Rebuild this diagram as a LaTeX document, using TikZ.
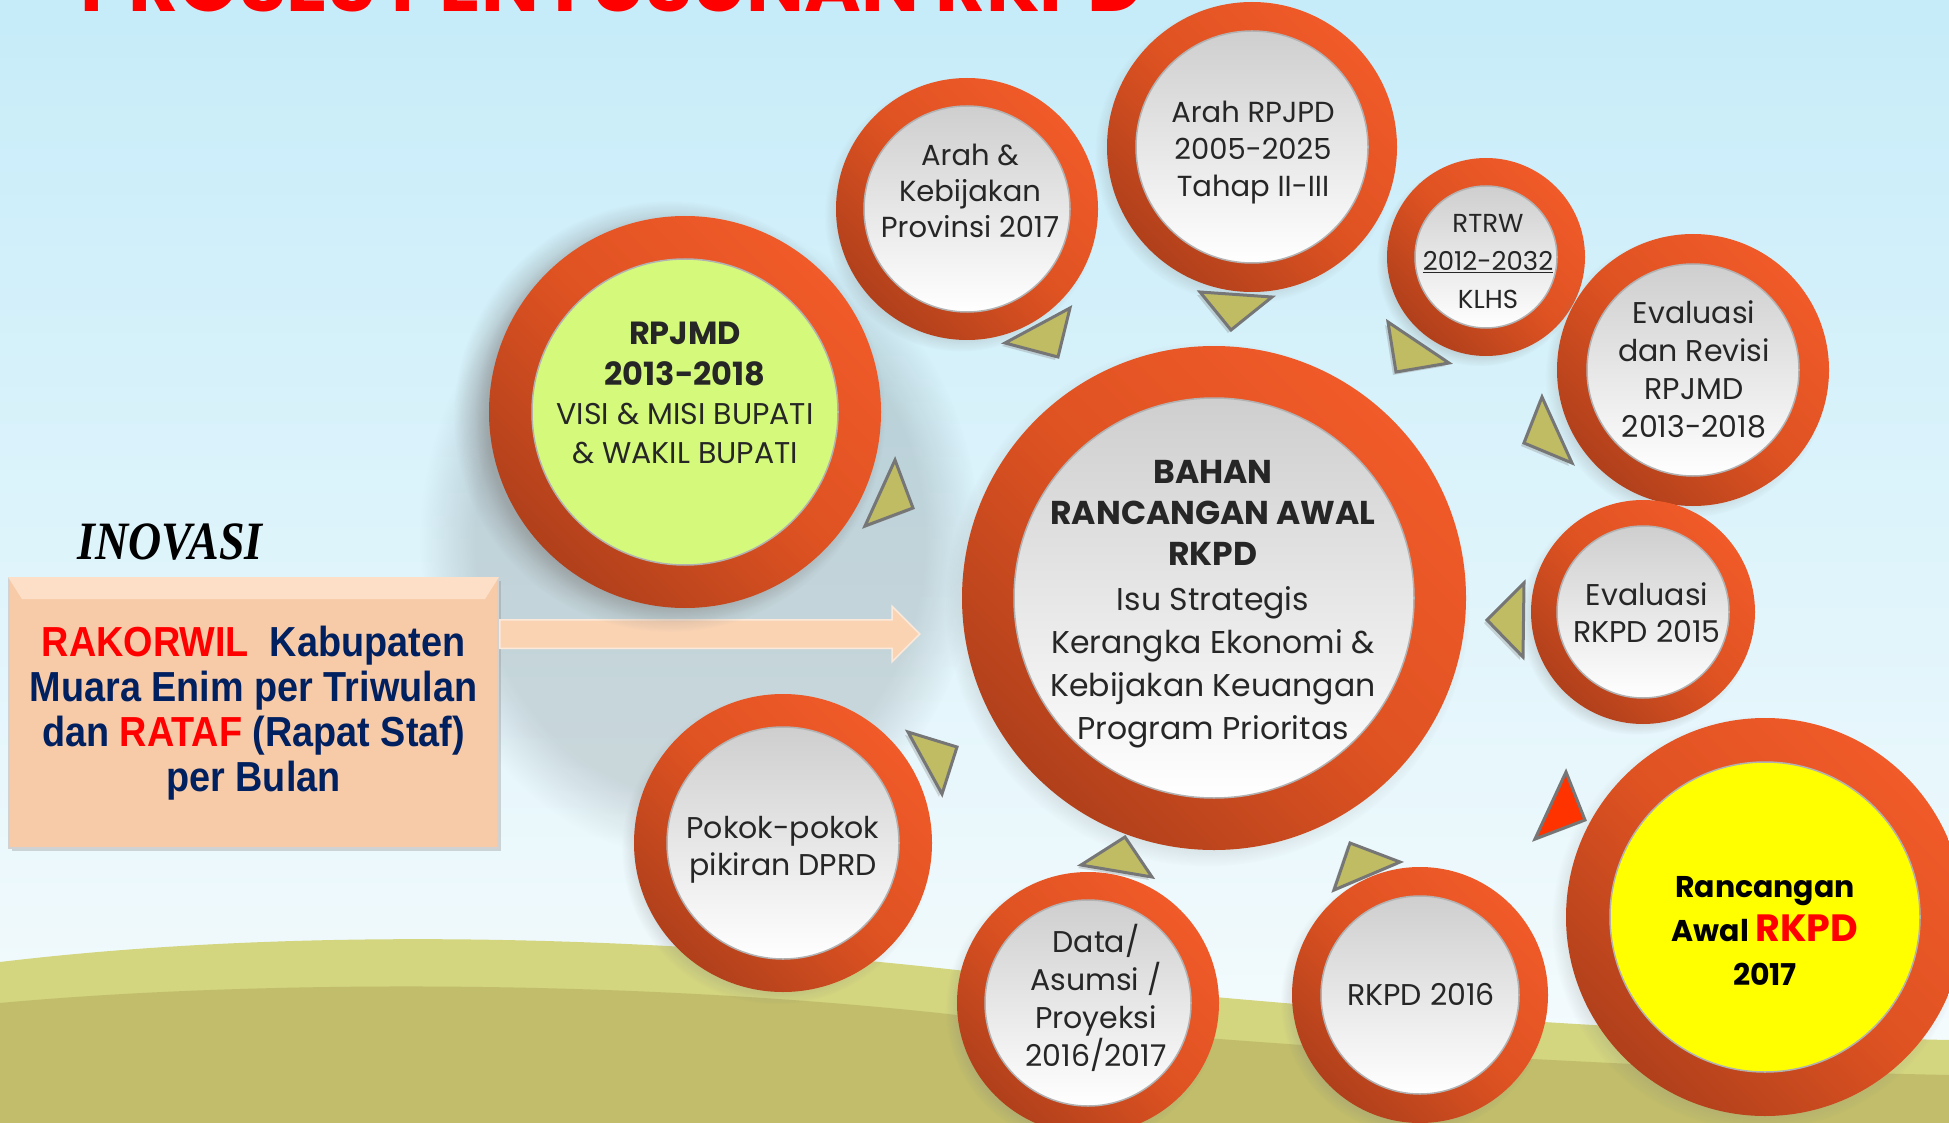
\documentclass[tikz,border=0pt]{standalone}
\usepackage{fontspec}
\setmainfont{Poppins}
\newfontfamily\narrowfont[FakeStretch=0.9]{Liberation Sans}
\newfontfamily\inovfont[FakeStretch=0.85]{Liberation Serif}
\usetikzlibrary{shadows,fadings,calc,shapes.arrows}

\definecolor{sky}{HTML}{C6ECF9}
\definecolor{skylo}{HTML}{F7FCFD}
\definecolor{hill}{HTML}{D3D57F}
\definecolor{hilldk}{HTML}{C1BD6B}
\definecolor{ringor}{HTML}{F15A29}
\definecolor{ringmid}{HTML}{DE5222}
\definecolor{ringdk}{HTML}{B0401B}
\definecolor{olive}{HTML}{BFBC64}
\definecolor{trigray}{HTML}{767676}
\definecolor{lime}{HTML}{D5FA7B}
\definecolor{peach}{HTML}{F8CBA8}
\definecolor{peachhi}{HTML}{FCDFC6}
\definecolor{arrowpeach}{HTML}{FAD3B3}
\definecolor{navy}{HTML}{002060}
\definecolor{redtri}{HTML}{FF3300}

\tikzset{
  ring/.style={circle, inner sep=0pt, minimum size=#1, top color=ringor, bottom color=ringdk, middle color=ringmid, shading angle=-45,
    circular drop shadow={shadow xshift=-6pt, shadow yshift=-6pt, opacity=.35, shadow scale=1.04}},
  disc/.style={circle, inner sep=0pt, minimum size=#1, top color=gray!38, bottom color=white, draw=gray!60, line width=1.5pt},
  circtext/.style args={#1/#2}{anchor=north, align=center, inner sep=0pt, text=black!85, font=\fontsize{#1}{#2}\selectfont},
  boldtext/.style args={#1/#2}{circtext=#1/#2, font=\fontsize{#1}{#2}\selectfont\bfseries},
  tri/.style={fill=olive, draw=trigray, line width=3pt, drop shadow={shadow xshift=-3pt, shadow yshift=-3pt, opacity=.3}},
}

\begin{document}
\begin{tikzpicture}[x=1pt,y=1pt]
\useasboundingbox (0,0) rectangle (1949,-1123);
\clip (0,0) rectangle (1949,-1123);
\fill[top color=sky, bottom color=skylo] (0,0) rectangle (1949,-1123);
\fill[hill] (0,-962) .. controls (250,-932) and (600,-927) .. (1000,-975) .. controls (1300,-1010) and (1700,-1035) .. (1949,-1040) -- (1949,-1123) -- (0,-1123) -- cycle;
\fill[hilldk] (0,-1003) .. controls (250,-980) and (650,-977) .. (1000,-1020) .. controls (1300,-1050) and (1700,-1070) .. (1949,-1075) -- (1949,-1123) -- (0,-1123) -- cycle;
\fill[black, opacity=.13, path fading=circle with fuzzy edge 20 percent] (700,-540) ellipse (280 and 320);

\node[anchor=base, text=red, font=\fontsize{77}{77}\selectfont\bfseries] (title) at (612,-12) {PROSES PENYUSUNAN RKPD};

\node[anchor=base, font=\inovfont\fontsize{54}{54}\selectfont\bfseries\itshape] (inovasi) at (170,-559) {INOVASI};
\node[fill=peach, draw=gray!35, line width=2pt, minimum width=489pt, minimum height=270pt, align=center, text=navy,
  font=\narrowfont\fontsize{42}{45}\selectfont\bfseries, drop shadow={opacity=.3}] (box) at (253.5,-713)
  {\textcolor{red}{RAKORWIL}\ \ Kabupaten\\Muara Enim per Triwulan\\dan \textcolor{red}{RATAF} (Rapat Staf)\\per Bulan};
\fill[peachhi] (box.north west) -- (box.north east) -- ++(-14,-22) -- ($(box.north west)+(14,-22)$) -- cycle;
\node[single arrow, fill=arrowpeach, draw=white!50!arrowpeach, line width=1.5pt, minimum height=420pt,
  single arrow head extend=13.5pt, inner xsep=0pt, inner ysep=13.5pt, anchor=tail] (arrow) at ($(box.east)+(0,79)$) {};

\node[ring=392pt, circular drop shadow={shadow xshift=-14pt, shadow yshift=-4pt, opacity=.45, shadow scale=1.1}] (rpjmdring) at (685,-412) {};
\node[disc=306pt, top color=lime, bottom color=lime] (rpjmd) at (rpjmdring) {};
\node[ring=262pt] (arahring) at (967,-209) {};
\node[disc=206pt] (arah) at (arahring) {};
\node[ring=290pt] (rpjpdring) at (1252,-147) {};
\node[disc=232pt] (rpjpd) at (rpjpdring) {};
\node[ring=198pt] (rtrwring) at (1486,-257) {};
\node[disc=142pt] (rtrw) at (rtrwring) {};
\node[ring=272pt] (revisiring) at (1693,-370) {};
\node[disc=212pt] (revisi) at (revisiring) {};
\node[ring=224pt] (evrkpdring) at (1643,-612) {};
\node[disc=172pt] (evrkpd) at (evrkpdring) {};
\node[ring=504pt] (bahanring) at (1214,-598) {};
\node[disc=400pt] (bahan) at (bahanring) {};
\node[ring=298pt] (pokokring) at (783,-843) {};
\node[disc=232pt] (pokok) at (pokokring) {};
\node[ring=262pt] (dataring) at (1088,-1003) {};
\node[disc=206pt] (data) at (dataring) {};
\node[ring=256pt] (rkpdring) at (1420,-995) {};
\node[disc=198pt] (rkpd) at (rkpdring) {};
\node[ring=398pt] (rancanganring) at (1765,-917) {};
\node[disc=310pt, top color=yellow, bottom color=yellow] (rancangan) at (rancanganring) {};

\node[boldtext=32/41] (rpjmdtitle) at (685,-322) {RPJMD\\2013-2018};
\node[circtext=30/39] (rpjmdsub) at (685,-403) {VISI \& MISI BUPATI\\\& WAKIL BUPATI};
\node[circtext=29/36] (arahtext) at (970,-144) {Arah \&\\Kebijakan\\Provinsi 2017};
\node[circtext=29/37] (rpjpdtext) at (1253,-101) {Arah RPJPD\\2005-2025\\Tahap II-III};
\node[circtext=26/38] (rtrwtext) at (1488,-214) {RTRW\\\underline{2012-2032}\\KLHS};
\node[circtext=30/38] (revisitext) at (1694,-300) {Evaluasi\\dan Revisi\\RPJMD\\2013-2018};
\node[circtext=30/37] (evrkpdtext) at (1647,-582) {Evaluasi\\RKPD 2015};
\node[boldtext=33/41] (bahantitle) at (1213,-460) {BAHAN\\RANCANGAN AWAL\\RKPD};
\node[circtext=31.5/43] (bahanbody) at (1213,-586) {Isu Strategis\\Kerangka Ekonomi \&\\Kebijakan Keuangan\\Program Prioritas};
\node[circtext=30/37] (pokoktext) at (783,-816) {Pokok-pokok\\pikiran DPRD};
\node[circtext=30/38] (datatext) at (1096,-924) {Data/\\Asumsi /\\Proyeksi\\2016/2017};
\node[circtext=30/37] (rkpdtext) at (1421,-983) {RKPD 2016};
\node[boldtext=30/44, text=black] (rancangantext) at (1765,-876)
  {Rancangan\\Awal {\fontsize{38}{44}\selectfont\textcolor{red}{RKPD}}\\2017};

\foreach \ax/\ay/\bx/\by/\cx/\cy in {1005/343/1070/308/1058/357, 1200/292/1272/297/1231/330,
    1388/322/1449/363/1396/372, 1542/397/1572/463/1524/443, 1524/583/1523/657/1487/620,
    895/460/913/508/865/526, 908/732/957/747/942/794, 1125/837/1152/877/1081/865,
    1350/843/1400/862/1334/890}
  \draw[tri] (\ax,-\ay) -- (\bx,-\by) -- (\cx,-\cy) -- cycle;
\draw[tri, fill=redtri] (1566,-772) -- (1585,-820) -- (1535,-839) -- cycle;
\end{tikzpicture}
\end{document}
